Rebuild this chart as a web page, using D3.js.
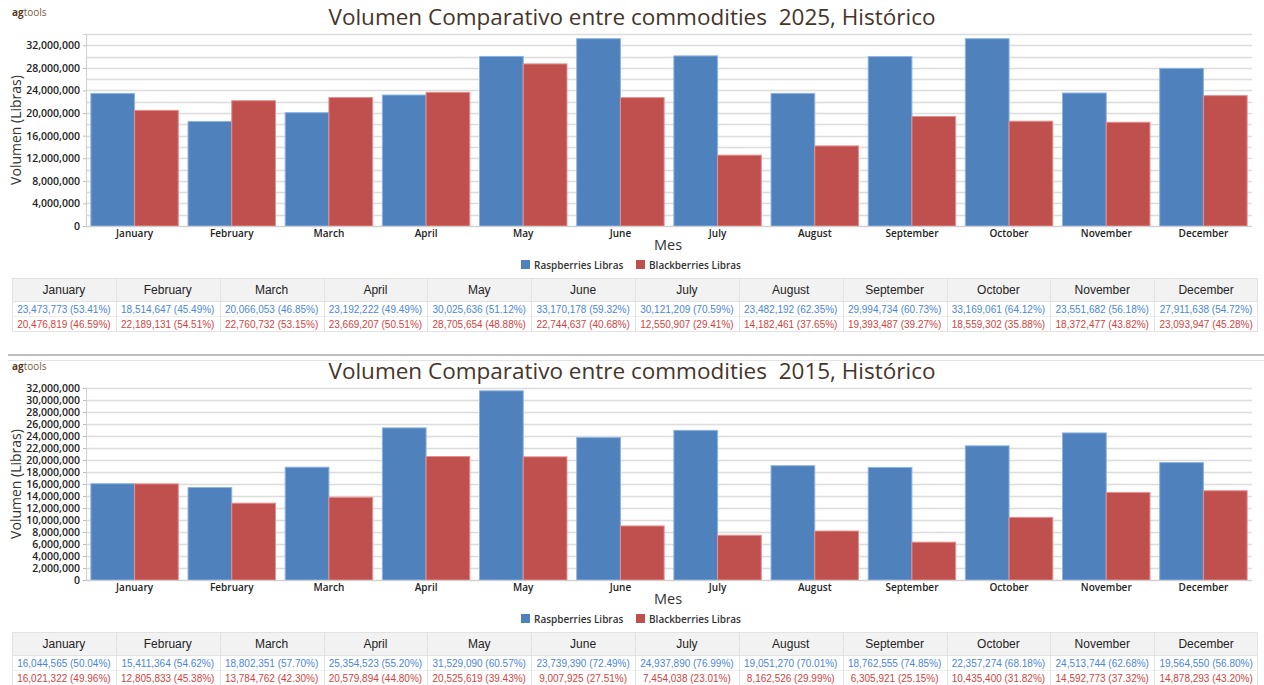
<!DOCTYPE html>
<html>
<head>
<meta charset="utf-8">
<script src="https://cdn.jsdelivr.net/npm/d3@7/dist/d3.min.js"></script>
<style>
  body { margin: 0; background: #fff; }
  svg text { font-family: "Open Sans", "DejaVu Sans", sans-serif; }
  .tbl text { font-family: "Liberation Sans", Arial, sans-serif; }
</style>
</head>
<body>
<svg id="chart" width="1264" height="685"></svg>
<script>
var months = ['January', 'February', 'March', 'April', 'May', 'June', 'July',
    'August', 'September', 'October', 'November', 'December'];
var seriesNames = ['Raspberries Libras', 'Blackberries Libras'];

var rasp2025 = [23473773, 18514647, 20066053, 23192222, 30025636, 33170178,
    30121209, 23482192, 29994734, 33169061, 23551682, 27911638];
var black2025 = [20476819, 22189131, 22760732, 23669207, 28705654, 22744637,
    12550907, 14182461, 19393487, 18559302, 18372477, 23093947];
var rasp2015 = [16044565, 15411364, 18802351, 25354523, 31529090, 23739390,
    24937890, 19051270, 18762555, 22357274, 24513744, 19564550];
var black2015 = [16021322, 12805833, 13784762, 20579894, 20525619, 9007925,
    7454038, 8162526, 6305921, 10435400, 14592773, 14878293];

var ticks2025 = [0, 4e6, 8e6, 12e6, 16e6, 20e6, 24e6, 28e6, 32e6];
var ticks2015 = [0, 2e6, 4e6, 6e6, 8e6, 10e6, 12e6, 14e6, 16e6, 18e6, 20e6,
    22e6, 24e6, 26e6, 28e6, 30e6, 32e6];

var colors = ['#4f81bd', '#c0504d'];
var strokes = ['#8db3e2', '#e6908e'];
var textColors = ['#4a86d8', '#d0443f'];

var svg = d3.select('#chart');
var fmt = d3.format(',');

function drawPanel(cfg) {
    var g = svg.append('g');
    var top = cfg.top;

    // logo
    var logo = g.append('text').attr('x', 12).attr('y', top - 18)
        .attr('font-size', 10).attr('fill', '#5b3a22');
    logo.append('tspan').attr('font-weight', 'bold').text('ag');
    logo.append('tspan').attr('fill', '#7a5a40').text('tools');

    g.append('text').attr('x', 632).attr('y', top - 9)
        .attr('text-anchor', 'middle').attr('font-size', 22.5)
        .attr('fill', '#45352b').attr('xml:space', 'preserve')
        .text(cfg.title);

    var x0 = d3.scaleBand().domain(months).range([86, 1252]).paddingInner(0.1).paddingOuter(0.05);
    var x1 = d3.scaleBand().domain([0, 1]).range([0, x0.bandwidth()]);
    var y = d3.scaleLinear().domain([0, cfg.max]).range([cfg.bottom, top]);

    // grid
    g.append('g').selectAll('line').data(d3.range(0, cfg.max + 1, 2e6))
        .enter().append('line')
        .attr('x1', 86).attr('x2', 1252)
        .attr('y1', function(d) { return Math.round(y(d)) + 0.5; })
        .attr('y2', function(d) { return Math.round(y(d)) + 0.5; })
        .attr('stroke', '#dcdcdc').attr('stroke-width', 1.3);

    // bars
    var groups = g.append('g').selectAll('g').data(months).enter().append('g')
        .attr('transform', function(d) { return 'translate(' + x0(d) + ',0)'; });
    [cfg.a, cfg.b].forEach(function(vals, si) {
        groups.append('rect')
            .attr('x', x1(si))
            .attr('y', function(d, i) { return y(vals[i]); })
            .attr('width', x1.bandwidth())
            .attr('height', function(d, i) { return cfg.bottom - y(vals[i]); })
            .attr('fill', colors[si])
            .attr('stroke', strokes[si]).attr('stroke-width', 1);
    });

    // axes
    var yAxis = d3.axisLeft(y).tickValues(cfg.ticks).tickSize(3).tickFormat(fmt);
    var ya = g.append('g').attr('transform', 'translate(86,0)').call(yAxis);
    ya.select('.domain').attr('stroke', '#cfcfcf');
    ya.selectAll('.tick line').attr('stroke', '#bbb');
    ya.selectAll('text').attr('font-size', 10.5).attr('fill', '#222').attr('font-weight', 600);

    var xAxis = d3.axisBottom(x0).tickSize(0).tickPadding(4);
    var xa = g.append('g').attr('transform', 'translate(0,' + cfg.bottom + ')').call(xAxis);
    xa.select('.domain').attr('stroke', '#cfcfcf').attr('d', 'M86,0.5H1252');
    xa.selectAll('text').attr('font-size', 10).attr('fill', '#222').attr('font-weight', 600);

    g.append('text').attr('transform', 'translate(21,' + ((top + cfg.bottom) / 2) + ') rotate(-90)')
        .attr('text-anchor', 'middle').attr('font-size', 14).attr('fill', '#333')
        .text('Volumen (Libras)');

    g.append('text').attr('x', 668).attr('y', cfg.bottom + 24)
        .attr('text-anchor', 'middle').attr('font-size', 14.5).attr('fill', '#333')
        .text('Mes');

    // legend
    var lg = g.append('g').attr('transform', 'translate(521,' + (cfg.bottom + 34) + ')');
    var offs = [0, 115];
    seriesNames.forEach(function(n, i) {
        lg.append('rect').attr('x', offs[i]).attr('y', 0).attr('width', 9).attr('height', 9)
            .attr('fill', colors[i]);
        lg.append('text').attr('x', offs[i] + 13).attr('y', 8.5).attr('font-size', 10)
            .attr('font-weight', 600).attr('fill', '#333').text(n);
    });

    // table
    var t = svg.append('g').attr('class', 'tbl');
    var tx = d3.scaleBand().domain(months).range([12, 1258]);
    var th = cfg.tableTop;
    t.append('rect').attr('x', 12).attr('y', th).attr('width', 1246).attr('height', 23)
        .attr('fill', '#f2f2f2');
    t.append('rect').attr('x', 12.5).attr('y', th + 0.5).attr('width', 1245).attr('height', 53)
        .attr('fill', 'none').attr('stroke', '#e2e2e2');
    t.append('line').attr('x1', 12).attr('x2', 1258).attr('y1', th + 23.5).attr('y2', th + 23.5)
        .attr('stroke', '#e2e2e2');
    t.append('line').attr('x1', 12).attr('x2', 1258).attr('y1', th + 38.5).attr('y2', th + 38.5)
        .attr('stroke', '#eeeeee');
    t.selectAll('.sep').data(months.slice(1)).enter().append('line')
        .attr('x1', function(d) { return Math.round(tx(d)) + 0.5; })
        .attr('x2', function(d) { return Math.round(tx(d)) + 0.5; })
        .attr('y1', th).attr('y2', th + 54).attr('stroke', '#e2e2e2');
    t.selectAll('.hd').data(months).enter().append('text')
        .attr('x', function(d) { return tx(d) + tx.bandwidth() / 2; })
        .attr('y', th + 16).attr('text-anchor', 'middle').attr('font-size', 12)
        .attr('fill', '#222').text(function(d) { return d; });
    [cfg.a, cfg.b].forEach(function(vals, si) {
        t.selectAll('.v' + si).data(months).enter().append('text')
            .attr('x', function(d) { return tx(d) + tx.bandwidth() / 2; })
            .attr('y', th + 35 + si * 15).attr('text-anchor', 'middle').attr('font-size', 10)
            .attr('fill', textColors[si])
            .text(function(d, i) {
                var tot = cfg.a[i] + cfg.b[i];
                return fmt(vals[i]) + ' (' + (vals[i] / tot * 100).toFixed(2) + '%)';
            });
    });
}

drawPanel({ title: 'Volumen Comparativo entre commodities  2025, Histórico',
    top: 34, bottom: 226, max: 34e6, ticks: ticks2025,
    a: rasp2025, b: black2025, tableTop: 278 });

svg.append('line').attr('x1', 8).attr('x2', 1264).attr('y1', 355).attr('y2', 355)
    .attr('stroke', '#a8a8a8').attr('stroke-width', 1.5);
svg.append('line').attr('x1', 8).attr('x2', 1264).attr('y1', 360.5).attr('y2', 360.5)
    .attr('stroke', '#e4e4e4');

drawPanel({ title: 'Volumen Comparativo entre commodities  2015, Histórico',
    top: 388, bottom: 580, max: 32e6, ticks: ticks2015,
    a: rasp2015, b: black2015, tableTop: 632 });
</script>
</body>
</html>
